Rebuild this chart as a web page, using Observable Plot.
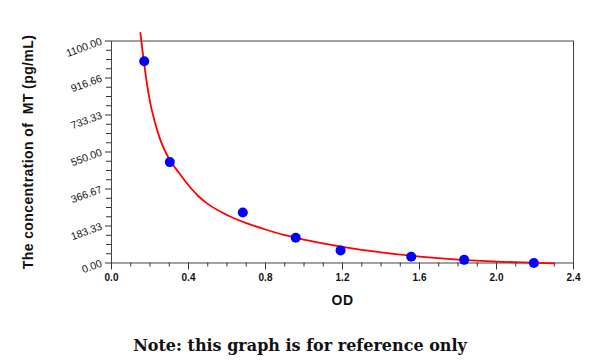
<!DOCTYPE html>
<html>
<head>
<meta charset="utf-8">
<script src="https://cdn.jsdelivr.net/npm/d3@7"></script>
<script src="https://cdn.jsdelivr.net/npm/@observablehq/plot@0.6"></script>
<style>
  html, body { margin: 0; padding: 0; background: #fff; }
  #chart svg { display: block; }
  #note { font-family: "DejaVu Serif", "Liberation Serif", serif; font-weight: bold; font-size: 16px; text-align: center; width: 600px; margin-top: 10px; color: #111; }
</style>
</head>
<body>
<div id="chart"></div>
<div id="note">Note: this graph is for reference only</div>
<script>
// Standards (observed points)
const odPoints   = [0.170, 0.303, 0.682, 0.957, 1.190, 1.557, 1.832, 2.194];
const concPoints = [1000, 500, 250, 125, 62.5, 31.25, 15.6, 0];

// Fitted curve
const odCurve   = [0.15, 0.16, 0.17, 0.18, 0.20, 0.225, 0.25, 0.30, 0.35, 0.40, 0.45, 0.50, 0.60, 0.70, 0.80, 0.90, 1.00, 1.20, 1.40, 1.60, 1.80, 2.00, 2.20, 2.30];
const concCurve = [1140, 1060, 985, 915, 800, 700, 620, 515, 447, 385, 332, 293, 238, 198, 166, 138, 116, 80, 53, 32, 17, 7, 1, -2];

// Tick labels
const xTicks = [0, 0.4, 0.8, 1.2, 1.6, 2.0, 2.4];
const xTickLabels = ["0.0", "0.4", "0.8", "1.2", "1.6", "2.0", "2.4"];
const yTicks = [0, 183.33, 366.67, 550, 733.33, 916.66, 1100];
const yTickLabels = ["0.00", "183.33", "366.67", "550.00", "733.33", "916.66", "1100.00"];

const points = odPoints.map((x, i) => ({x, y: concPoints[i]}));
const curve = odCurve.map((x, i) => ({x, y: concCurve[i]}));
const xMinor = d3.range(0, 24).map(i => i / 10).filter(v => !xTicks.some(t => Math.abs(t - v) < 1e-9));
const yMinor = d3.range(0, 25).map(i => 1100 * i / 24).filter((v, i) => i % 4 !== 0);

const H = 326;
const chart = Plot.plot({
  width: 600,
  height: H,
  marginLeft: 111,
  marginRight: 27,
  marginTop: 40.5,
  marginBottom: H - 262.5,
  style: { fontFamily: "'Liberation Sans', Arial, sans-serif", color: "#111", background: "#fff" },
  x: { domain: [0, 2.4] },
  y: { domain: [0, 1100] },
  marks: [
    Plot.frame({ stroke: "#444", strokeWidth: 1 }),
    Plot.axisX({ ticks: xMinor, tickSize: 4, tickFormat: () => "", label: null, stroke: "#333" }),
    Plot.axisX({ ticks: xTicks, tickSize: 7, tickFormat: (d) => xTickLabels[xTicks.indexOf(d)], tickPadding: 4,
      fontSize: 10, fontWeight: "bold", label: "OD", labelArrow: "none", labelAnchor: "center", labelOffset: 42, stroke: "#333" }),
    Plot.axisY({ ticks: yMinor, tickSize: 5, tickFormat: () => "", label: null, stroke: "#333" }),
    Plot.axisY({ ticks: yTicks, tickSize: 6, tickFormat: d => yTickLabels[yTicks.indexOf(d)], tickRotate: -20, tickPadding: 4,
      fontSize: 10.5, label: "The concentration of  MT (pg/mL)", labelArrow: "none", labelAnchor: "center", labelOffset: 88, stroke: "#333" }),
    Plot.line(curve, { x: "x", y: "y", stroke: "#ff0000", strokeWidth: 1.8, curve: "monotone-x", clip: false }),
    Plot.dot(points, { x: "x", y: "y", r: 5, fill: "#0000ff", stroke: "none" })
  ]
});
document.getElementById("chart").appendChild(chart);
// label fonts, strip any arrows
chart.querySelectorAll("[aria-label='x-axis label'] text, [aria-label='y-axis label'] text").forEach(t => {
  t.setAttribute("font-weight", "bold");
  t.setAttribute("font-size", "14");
  t.setAttribute("letter-spacing", "0.4");
  t.setAttribute("xml:space", "preserve");
  t.style.whiteSpace = "pre";
  t.textContent = t.textContent.replace(/[\u2190-\u2193]/g, "").trim();
});
</script>
</body>
</html>
